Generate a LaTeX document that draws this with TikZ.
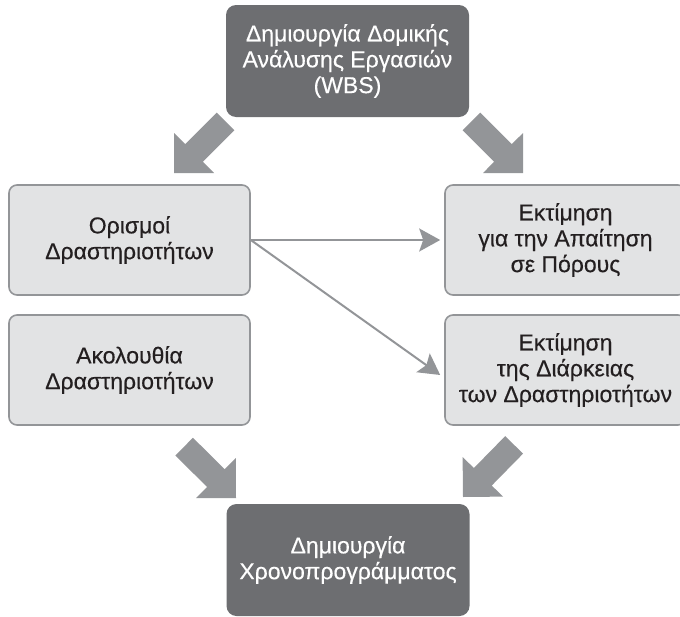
\documentclass[tikz,border=0pt]{standalone}
\usepackage{fontspec}
\setmainfont{Liberation Sans}
\newfontfamily\labelfont{Liberation Sans}[FakeBold=0.35]
\usetikzlibrary{arrows.meta,calc}

\definecolor{darkbox}{HTML}{6D6E71}
\definecolor{lightbox}{HTML}{E2E3E4}
\definecolor{edgegray}{HTML}{939598}
\definecolor{inkdark}{HTML}{231F20}

% broad block arrow from a tail centre to a tip (head with a right-angled point)
\newcommand{\fatarr}[2]{%
  \fill[edgegray] (#2)
    -- ($(#2)!40pt!45:(#1)$)
    -- ($(#2)!30.94pt!23.83:(#1)$)
    -- ($(#2)!74.06pt!9.72:(#1)$)
    -- ($(#2)!74.06pt!-9.72:(#1)$)
    -- ($(#2)!30.94pt!-23.83:(#1)$)
    -- ($(#2)!40pt!-45:(#1)$)
    -- cycle;}

\begin{document}
\begin{tikzpicture}[x=1pt,y=-1pt,
  every node/.style={font=\labelfont\fontsize{23}{25.8}\selectfont, align=center, inner sep=0pt},
  mainbox/.style={fill=darkbox, text=white, rounded corners=10pt,
    minimum width=243pt, minimum height=112pt},
  stepbox/.style={fill=lightbox, draw=edgegray, line width=1.6pt, text=inkdark,
    rounded corners=8pt, minimum width=241pt, minimum height=110pt},
  thinarrow/.style={draw=edgegray, line width=2pt,
    -{Stealth[length=21pt, width=23pt, inset=4pt]}}
]
\useasboundingbox (0,0) rectangle (680,616);
\clip (0,0) rectangle (680,616);

% boxes
\node[mainbox] (wbs) at (347.5,61) {Δημιουργία Δομικής\\Ανάλυσης Εργασιών\\(WBS)};
\node[stepbox] (def) at (129.5,240) {Ορισμοί\\Δραστηριοτήτων};
\node[stepbox] (seq) at (129.5,370) {Ακολουθία\\Δραστηριοτήτων};
\node[stepbox] (res) at (565.5,240) {Εκτίμηση\\για την Απαίτηση\\σε Πόρους};
\node[stepbox] (dur) at (565.5,370) {Εκτίμηση\\της Διάρκειας\\των Δραστηριοτήτων};
\node[mainbox] (sch) at (348,560) {Δημιουργία\\Χρονοπρογράμματος};

% broad arrows between the stages
\coordinate (a1t) at (225.5,121.5); \coordinate (a1h) at (174,173);
\coordinate (a2t) at (471,121);     \coordinate (a2h) at (523,173);
\coordinate (a3t) at (183.5,446);   \coordinate (a3h) at (236,498);
\coordinate (a4t) at (514,445);     \coordinate (a4h) at (463,497);
\fatarr{a1t}{a1h}
\fatarr{a2t}{a2h}
\fatarr{a3t}{a3h}
\fatarr{a4t}{a4h}

% thin arrows out of the activity definition
\coordinate (resin) at ($(res.west)+(-4,0)$);
\coordinate (durin) at ($(dur.west)+(-4,5)$);
\draw[thinarrow] (def.east) -- (resin);
\draw[thinarrow] (def.east) -- (durin);
\end{tikzpicture}
\end{document}
